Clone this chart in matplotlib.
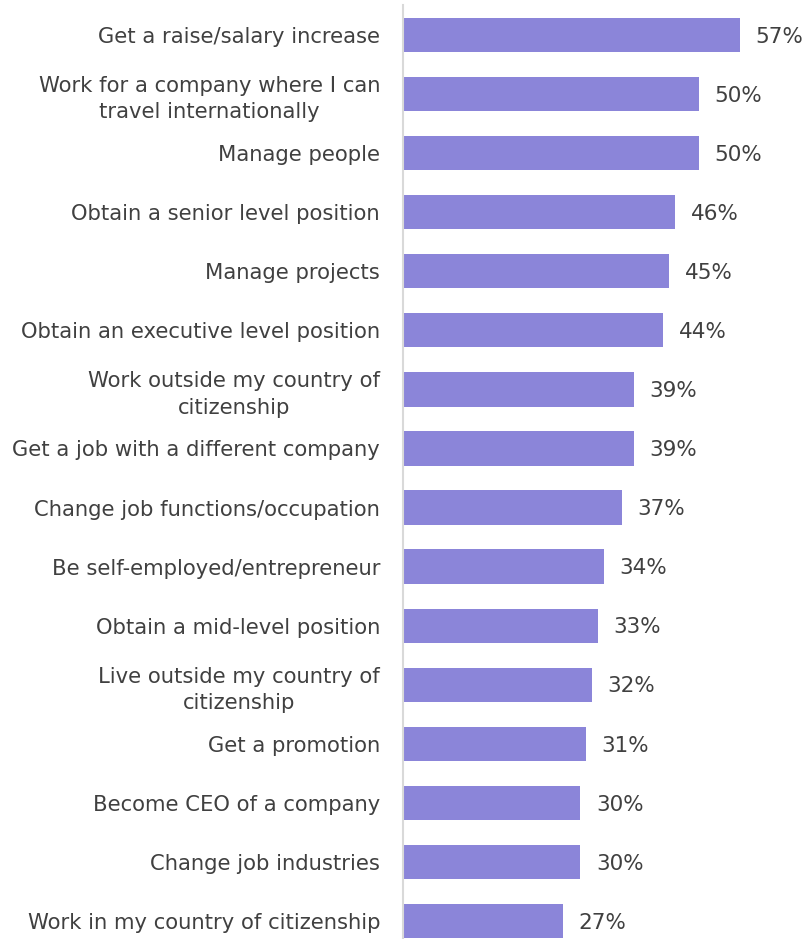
import matplotlib
matplotlib.use("Agg")
import matplotlib.pyplot as plt

# --- данные ---
labels = [
    "Get a raise/salary increase",
    "Work for a company where I can\ntravel internationally",
    "Manage people",
    "Obtain a senior level position",
    "Manage projects",
    "Obtain an executive level position",
    "Work outside my country of\ncitizenship",
    "Get a job with a different company",
    "Change job functions/occupation",
    "Be self-employed/entrepreneur",
    "Obtain a mid-level position",
    "Live outside my country of\ncitizenship",
    "Get a promotion",
    "Become CEO of a company",
    "Change job industries",
    "Work in my country of citizenship",
]
values = [57, 50, 50, 46, 45, 44, 39, 39, 37, 34, 33, 32, 31, 30, 30, 27]

BAR_COLOR = "#8b85d9"
TEXT_COLOR = "#404040"

plt.rcParams["font.family"] = ["DejaVu Sans"]

fig = plt.figure(figsize=(8.07, 9.39), dpi=100)
W, H = 807, 939
ax = fig.add_axes([403 / W, 0, (807 - 403) / W, (939 - 5) / H])

ys = list(range(len(values)))
ax.barh(ys, values, height=0.58, color=BAR_COLOR)
ax.set_ylim(15.305, -0.508)
ax.set_xlim(0, 68.3)

for y, v in zip(ys, values):
    ax.text(v + 2.6, y + 0.03, "%d%%" % v, va="center", ha="left",
            fontsize=15.5, color=TEXT_COLOR)

ax.set_yticks(ys)
ax.set_yticklabels(labels, fontsize=15.2, color=TEXT_COLOR, linespacing=1.4,
                   multialignment="center")
ax.tick_params(axis="y", length=0, pad=16.5)
ax.set_xticks([])
for s in ["top", "right", "bottom"]:
    ax.spines[s].set_visible(False)
ax.spines["left"].set_color("#d9d9d9")
ax.spines["left"].set_linewidth(1.5)

fig.savefig("out.png", dpi=100)
